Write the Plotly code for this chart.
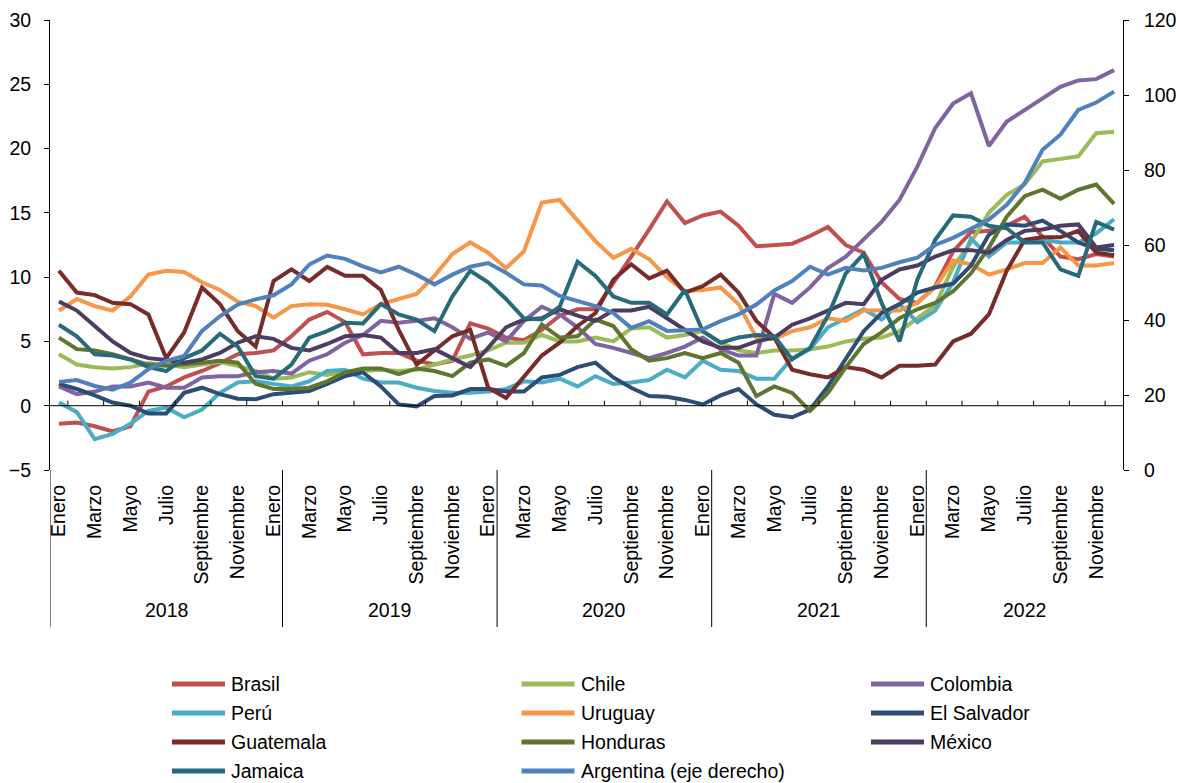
import plotly.graph_objects as go

# ---------------- data ----------------
month_names = ["Enero", "Febrero", "Marzo", "Abril", "Mayo", "Junio", "Julio",
               "Agosto", "Septiembre", "Octubre", "Noviembre", "Diciembre"]
years = ["2018", "2019", "2020", "2021", "2022"]

brasil = [-1.4, -1.3, -1.6, -2.0, -1.6, 1.1, 1.5, 2.2, 2.7, 3.3, 4.0, 4.1, 4.3,
          5.4, 6.7, 7.3, 6.5, 4.0, 4.1, 4.1, 3.5, 3.2, 3.5, 6.4, 6.0,
          5.3, 5.1, 5.9, 7.0, 7.5, 7.5, 9.5, 11.6, 13.7, 15.9, 14.2, 14.8,
          15.1, 14.0, 12.4, 12.5, 12.6, 13.2, 13.9, 12.5, 11.9, 9.6, 8.3, 8.0,
          9.3, 12.0, 13.5, 13.6, 14.0, 14.7, 13.2, 11.6, 11.4, 11.8, 11.6]
chile = [4.0, 3.2, 3.0, 2.9, 3.0, 3.3, 3.2, 3.0, 3.2, 3.4, 3.1, 2.7, 2.1,
         2.2, 2.6, 2.4, 2.7, 2.7, 2.8, 2.7, 2.8, 3.2, 3.6, 3.9, 4.3,
         4.9, 4.9, 5.5, 5.0, 5.0, 5.3, 5.0, 6.0, 6.1, 5.3, 5.5, 5.8,
         4.9, 4.3, 4.1, 4.3, 4.3, 4.4, 4.6, 5.0, 5.2, 5.3, 5.8, 6.8,
         7.8, 10.8, 12.7, 15.0, 16.4, 17.2, 19.0, 19.2, 19.4, 21.2, 21.3]
colombia = [1.5, 0.9, 1.1, 1.5, 1.5, 1.8, 1.4, 1.4, 2.2, 2.3, 2.3, 2.6, 2.7,
            2.5, 3.5, 4.0, 4.9, 5.5, 6.6, 6.45, 6.6, 6.8, 6.1, 5.2, 5.7,
            5.0, 6.6, 7.7, 7.1, 6.1, 4.8, 4.5, 4.1, 3.7, 4.1, 4.6, 5.3,
            4.4, 3.9, 3.9, 8.7, 8.0, 9.2, 10.7, 11.6, 12.9, 14.3, 16.0, 18.6,
            21.6, 23.5, 24.3, 20.2, 22.1, 23.0, 23.9, 24.8, 25.3, 25.4, 26.1]
peru = [0.25, -0.5, -2.6, -2.2, -1.4, -0.4, -0.15, -0.9, -0.3, 1.0, 1.8, 1.9, 1.7,
        1.5, 1.9, 2.7, 2.8, 2.1, 1.8, 1.8, 1.4, 1.15, 1.0, 1.0, 1.1,
        1.3, 1.9, 1.8, 2.1, 1.5, 2.3, 1.7, 1.8, 2.0, 2.8, 2.2, 3.5,
        2.8, 2.7, 2.1, 2.1, 3.7, 4.4, 6.1, 6.8, 7.5, 6.7, 7.9, 6.5,
        7.4, 9.6, 13.0, 11.6, 12.7, 12.7, 12.9, 12.7, 12.7, 13.4, 14.5]
uruguay = [7.4, 8.3, 7.75, 7.4, 8.5, 10.2, 10.5, 10.4, 9.6, 9.0, 8.1, 7.75, 6.85,
           7.75, 7.9, 7.85, 7.5, 7.1, 7.9, 8.3, 8.7, 10.1, 11.8, 12.7, 11.9,
           10.7, 12.0, 15.8, 16.0, 14.4, 12.8, 11.5, 12.2, 11.4, 10.0, 8.9, 9.0,
           9.2, 7.9, 5.3, 5.2, 5.8, 6.1, 6.8, 6.6, 7.4, 7.4, 7.4, 8.0,
           9.2, 11.3, 11.0, 10.2, 10.6, 11.1, 11.1, 12.3, 10.9, 10.9, 11.1]
el_salvador = [1.7, 1.3, 0.8, 0.25, 0.0, -0.6, -0.6, 1.0, 1.4, 0.9, 0.55, 0.5, 0.9,
               1.0, 1.15, 1.7, 2.3, 2.6, 1.5, 0.1, -0.05, 0.75, 0.8, 1.3, 1.3,
               1.1, 1.1, 2.2, 2.4, 3.0, 3.35, 2.2, 1.4, 0.75, 0.7, 0.45, 0.1,
               0.8, 1.3, 0.1, -0.7, -0.9, -0.3, 1.5, 3.6, 5.8, 7.2, 7.9, 8.8,
               9.2, 9.5, 10.9, 13.3, 14.1, 14.0, 14.4, 13.6, 12.7, 12.2, 12.1]
guatemala = [10.5, 8.8, 8.6, 8.0, 7.9, 7.1, 3.7, 5.7, 9.2, 7.9, 5.8, 4.6, 9.7,
             10.6, 9.7, 10.8, 10.1, 10.1, 9.0, 5.9, 3.2, 4.3, 5.4, 5.9, 1.4,
             0.6, 2.3, 3.9, 4.9, 6.2, 7.2, 9.8, 11.0, 9.9, 10.5, 8.8, 9.3,
             10.2, 8.8, 6.6, 5.3, 2.8, 2.45, 2.2, 3.0, 2.8, 2.2, 3.1, 3.1,
             3.2, 5.0, 5.6, 7.1, 10.5, 12.9, 13.1, 13.1, 13.6, 11.9, 11.7]
honduras = [5.3, 4.4, 4.3, 4.0, 3.6, 3.2, 3.1, 3.2, 3.35, 3.5, 3.35, 1.7, 1.3,
            1.3, 1.4, 1.9, 2.6, 2.9, 2.9, 2.45, 2.9, 2.7, 2.3, 3.35, 3.6,
            3.1, 4.1, 6.3, 5.3, 5.4, 6.7, 6.2, 4.4, 3.5, 3.7, 4.1, 3.7,
            4.1, 3.35, 0.75, 1.5, 1.0, -0.4, 1.0, 3.0, 4.8, 5.7, 6.8, 7.5,
            8.0, 8.9, 10.3, 12.3, 14.7, 16.3, 16.8, 16.1, 16.8, 17.2, 15.7]
mexico = [8.1, 7.4, 6.2, 5.0, 4.1, 3.7, 3.55, 3.35, 3.6, 4.1, 4.9, 5.4, 5.2,
          4.5, 4.3, 4.8, 5.4, 5.5, 5.3, 4.1, 4.1, 4.4, 3.7, 3.0, 4.5,
          6.1, 6.7, 6.8, 7.5, 7.0, 6.6, 7.4, 7.4, 7.7, 6.8, 5.9, 5.0,
          4.5, 4.5, 5.0, 5.3, 6.3, 6.8, 7.4, 8.0, 7.9, 9.8, 10.6, 10.9,
          11.6, 12.1, 12.1, 11.9, 12.9, 13.6, 13.7, 14.0, 14.1, 12.3, 12.5]
jamaica = [6.3, 5.4, 4.0, 3.9, 3.6, 3.0, 2.7, 3.7, 4.3, 5.6, 4.6, 2.3, 2.1,
           3.2, 5.3, 5.8, 6.45, 6.4, 7.9, 7.1, 6.7, 5.8, 8.5, 10.5, 9.6,
           8.3, 6.8, 6.7, 7.7, 11.2, 10.1, 8.5, 8.0, 8.0, 7.1, 9.0, 5.8,
           4.9, 5.3, 5.5, 5.4, 3.6, 4.5, 7.0, 10.3, 11.8, 8.0, 5.0, 9.8,
           12.9, 14.8, 14.7, 14.0, 13.8, 12.7, 12.7, 10.6, 10.1, 14.3, 13.7]
argentina = [23.5, 24.0, 22.4, 21.4, 23.3, 26.9, 29.1, 30.4, 37.1, 41.0, 44.1, 45.5, 46.6,
             49.5, 54.8, 57.2, 56.3, 54.3, 52.7, 54.2, 52.1, 49.5, 52.1, 54.2, 55.2,
             52.6, 49.5, 49.2, 46.4, 45.0, 43.7, 41.9, 37.9, 39.7, 37.1, 37.3, 37.5,
             39.7, 41.5, 44.1, 47.9, 50.4, 54.2, 52.1, 53.9, 53.2, 53.9, 55.4, 56.6,
             60.0, 61.9, 64.3, 66.8, 70.7, 76.5, 85.4, 89.4, 96.0, 98.0, 100.9]

series_names = ["Brasil", "Chile", "Colombia", "Perú", "Uruguay", "El Salvador",
                "Guatemala", "Honduras", "México", "Jamaica", "Argentina (eje derecho)"]
series_values = [brasil, chile, colombia, peru, uruguay, el_salvador,
                 guatemala, honduras, mexico, jamaica, argentina]

# ---------------- style ----------------
colors = ["#C0504D", "#9BBB59", "#8064A2", "#4BACC6", "#F79646", "#2C4D75",
          "#772C2A", "#5F7530", "#4D3B62", "#276A7C", "#4F81BD"]
FONT = "Liberation Sans, Arial, sans-serif"
FS = 19.5
W, H = 1179, 783
ML, MT = 50, 20
PW, PH = 1123 - 50, 470 - 20
MR, MB = W - ML - PW, H - MT - PH


def px_x(p):  # page pixel -> paper x
    return (p - ML) / PW


def px_y(p):  # page pixel -> paper y
    return (MT + PH - p) / PH


n = len(brasil)
x = list(range(n))

fig = go.Figure()
for name, vals, col in zip(series_names, series_values, colors):
    right = name.startswith("Argentina")
    fig.add_trace(go.Scatter(
        x=x, y=vals, name=name, mode="lines",
        line=dict(color=col, width=4),
        yaxis="y2" if right else "y", showlegend=False))

shapes = []
annotations = []

# zero line with small inner ticks every two months
shapes.append(dict(type="line", xref="x", yref="y", x0=-0.5, x1=n - 0.5, y0=0, y1=0,
                   line=dict(color="black", width=1)))
for k in range(1, n + 1, 2):
    shapes.append(dict(type="line", xref="x", yref="y", ysizemode="pixel", yanchor=0,
                       x0=k - 0.5, x1=k - 0.5, y0=0, y1=5,
                       line=dict(color="black", width=1)))

# year group separators and labels
bounds = [-0.5] + [12 * k + 0.5 for k in range(1, len(years))] + [n - 0.5]
for b in bounds[:-1]:
    shapes.append(dict(type="line", xref="x", yref="paper", x0=b, x1=b,
                       y0=0, y1=px_y(627), line=dict(color="black", width=1)))
for i, yr in enumerate(years):
    annotations.append(dict(text=yr, xref="x", yref="paper",
                            x=(bounds[i] + bounds[i + 1]) / 2, y=px_y(610),
                            xanchor="center", yanchor="middle", showarrow=False,
                            font=dict(family=FONT, size=FS, color="black")))

# manual legend (3 columns, row-major)
for idx, (name, col) in enumerate(zip(series_names, colors)):
    r, c = divmod(idx, 3)
    py = 684 + 29 * r
    px0 = 172 + 349.5 * c
    shapes.append(dict(type="line", xref="paper", yref="paper",
                       x0=px_x(px0), x1=px_x(px0 + 53), y0=px_y(py), y1=px_y(py),
                       line=dict(color=col, width=5)))
    annotations.append(dict(text=name, xref="paper", yref="paper",
                            x=px_x(px0 + 57), y=px_y(py), xanchor="left", yanchor="middle",
                            showarrow=False, font=dict(family=FONT, size=FS, color="black")))

tickvals = [i for i in x if i % 2 == 0]
ticktext = [month_names[i % 12] for i in tickvals]

axis_common = dict(showgrid=False, zeroline=False, showline=True, linecolor="black",
                   linewidth=1, ticks="outside", ticklen=5, tickcolor="black",
                   automargin=False,
                   tickfont=dict(family=FONT, size=FS, color="black"))

fig.update_layout(
    width=W, height=H,
    margin=dict(l=ML, r=MR, t=MT, b=MB, pad=0, autoexpand=False),
    paper_bgcolor="white", plot_bgcolor="white",
    font=dict(family=FONT, size=FS, color="black"),
    showlegend=False,
    xaxis=dict(range=[-0.5, n - 0.5], showgrid=False, zeroline=False, showline=False,
               tickmode="array", tickvals=tickvals, ticktext=ticktext,
               tickangle=-90, ticks="", ticklabelstandoff=10, automargin=False,
               tickfont=dict(family=FONT, size=FS, color="black")),
    yaxis=dict(range=[-5, 30], dtick=5, tick0=0, ticklabelstandoff=9, **axis_common),
    yaxis2=dict(range=[0, 120], dtick=20, tick0=0, overlaying="y", side="right",
                ticklabelstandoff=11, **axis_common),
    shapes=shapes,
    annotations=annotations,
)

# remove the browser's default page margin so the figure fills the window exactly
fig.write_html("out.html", config={"displayModeBar": False},
               post_script="document.body.style.margin='0';")
